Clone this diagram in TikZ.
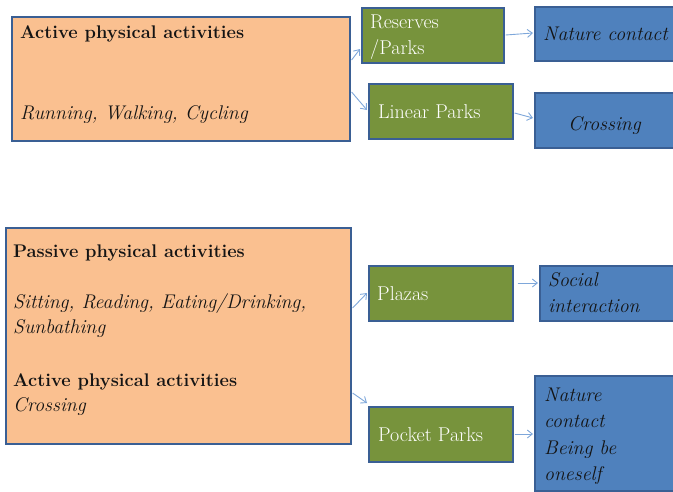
\documentclass[tikz,border=0pt]{standalone}
\usetikzlibrary{arrows.meta}
\definecolor{orfill}{HTML}{FAC090}
\definecolor{grfill}{HTML}{77933C}
\definecolor{blfill}{HTML}{4F81BD}
\definecolor{bord}{HTML}{3A5F94}
\definecolor{arr}{HTML}{7EA7DA}
\definecolor{txt}{HTML}{141414}
\tikzset{
  x=1pt,y=-1pt,
  box/.style={draw=bord,line width=1.6pt,inner sep=0pt,anchor=north west},
  obox/.style={box,fill=orfill},
  gbox/.style={box,fill=grfill},
  bbox/.style={box,fill=blfill},
  lbl/.style={anchor=base west,inner sep=0pt,font=\fontsize{20}{24}\selectfont,text=txt},
  wlbl/.style={lbl,text=white},
  blbl/.style={lbl,font=\fontsize{18.3}{22}\selectfont\bfseries},
  ilbl/.style={lbl,font=\fontsize{19.8}{24}\selectfont\itshape},
  conn/.style={draw=arr,line width=0.9pt,-{Straight Barb[length=5pt,width=8pt]}},
}
\begin{document}
\begin{tikzpicture}
\useasboundingbox (0,0) rectangle (673,491);
\clip (0,0) rectangle (673,491);
% boxes
\node[obox,minimum width=338pt,minimum height=124pt] (o1) at (11,16) {};
\node[obox,minimum width=345pt,minimum height=216pt] (o2) at (5,227) {};
\node[gbox,minimum width=142pt,minimum height=55pt] (g1) at (361,7) {};
\node[gbox,minimum width=144pt,minimum height=55pt] (g2) at (368,83) {};
\node[gbox,minimum width=144pt,minimum height=55pt] (g3) at (368,265) {};
\node[gbox,minimum width=144pt,minimum height=55pt] (g4) at (368,406) {};
\node[bbox,minimum width=150pt,minimum height=54pt] (b1) at (534,6) {};
\node[bbox,minimum width=150pt,minimum height=55pt] (b2) at (534,92) {};
\node[bbox,minimum width=150pt,minimum height=55pt] (b3) at (539,265) {};
\node[bbox,minimum width=150pt,minimum height=115pt] (b4) at (534,375) {};
% texts
\node[blbl] (t1) at (20,38) {Active physical activities};
\node[ilbl] (t2) at (20,119) {Running, Walking, Cycling};
\node[blbl] (t3) at (13,257) {Passive physical activities};
\node[ilbl] (t4) at (13,308) {Sitting, Reading, Eating/Drinking,};
\node[ilbl] (t5) at (13,333) {Sunbathing};
\node[blbl] (t6) at (13,386) {Active physical activities};
\node[ilbl] (t7) at (13,411) {Crossing};
\node[wlbl] (t8) at (370,28) {Reserves};
\node[wlbl] (t9) at (370,54) {/Parks};
\node[wlbl] (t10) at (378,118) {Linear Parks};
\node[wlbl] (t11) at (377,300) {Plazas};
\node[wlbl] (t12) at (378,441) {Pocket Parks};
\node[ilbl] (t13) at (543,40) {Nature contact};
\node[ilbl] (t14) at (568,130) {Crossing};
\node[ilbl] (t15) at (548,286) {Social};
\node[ilbl] (t16) at (548,312) {interaction};
\node[ilbl] (t17) at (544,401) {Nature};
\node[ilbl] (t18) at (544,427) {contact};
\node[ilbl] (t19) at (544,454) {Being be};
\node[ilbl] (t20) at (544,480) {oneself};
% connectors
\draw[conn] ([xshift=1pt]o1.east |- 0,60) -- ([xshift=-1pt]g1.west |- 0,49);
\draw[conn] ([xshift=1pt]o1.east |- 0,92) -- ([xshift=-1pt]g2.west |- 0,110);
\draw[conn] ([xshift=1pt]g1.east |- 0,35) -- ([xshift=-1pt]b1.west |- 0,33);
\draw[conn] ([xshift=1pt]g2.east |- 0,113) -- ([xshift=-1pt]b2.west |- 0,118);
\draw[conn] ([xshift=1pt]o2.east |- 0,308) -- ([xshift=-1pt]g3.west |- 0,293);
\draw[conn] ([xshift=1pt]o2.east |- 0,393) -- ([xshift=-1pt]g4.west |- 0,403);
\draw[conn] ([xshift=4pt]g3.east |- 0,283) -- ([xshift=-1pt]b3.west |- 0,283);
\draw[conn] ([xshift=1pt]g4.east |- 0,434) -- ([xshift=-1pt]b4.west |- 0,434);
\end{tikzpicture}
\end{document}
